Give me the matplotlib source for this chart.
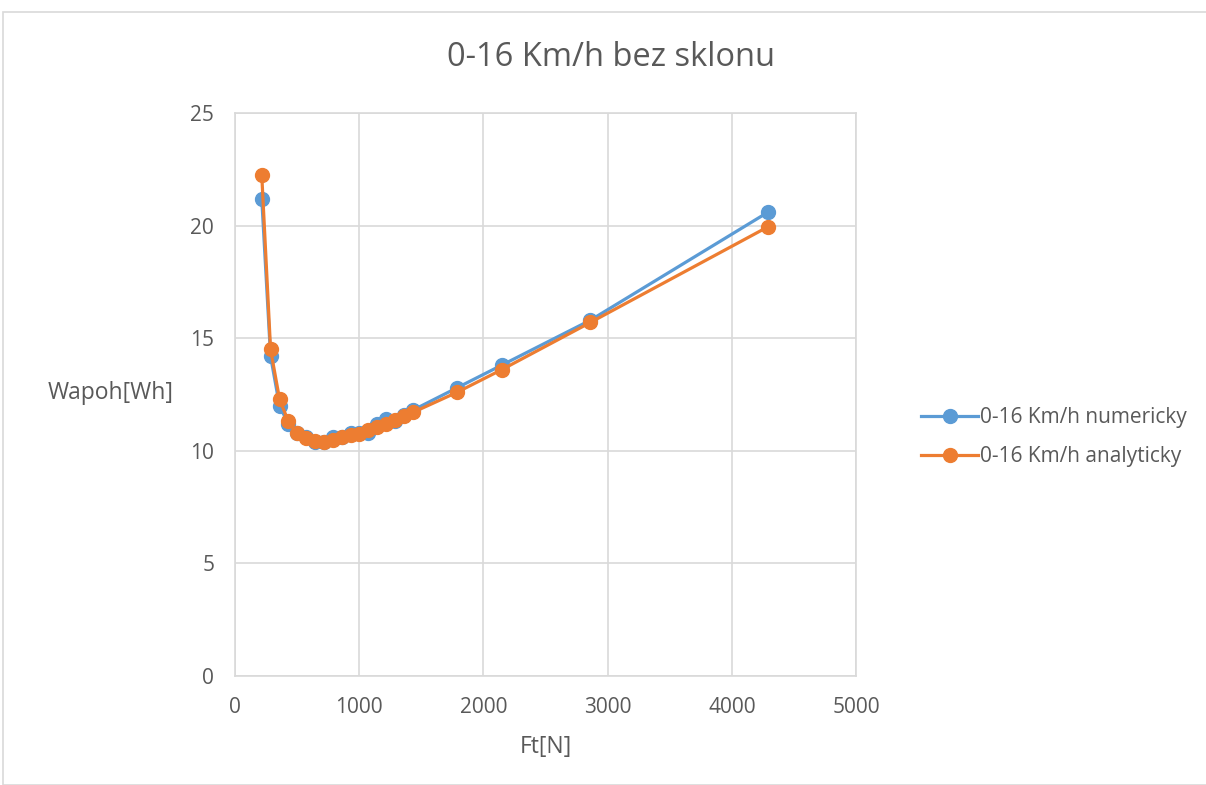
import matplotlib.pyplot as plt
from matplotlib.patches import Rectangle

# Data
ft = [215, 286, 358, 429, 501, 572, 644, 715, 787, 858, 930, 1001,
      1073, 1145, 1216, 1288, 1359, 1431, 1789, 2147, 2862, 4293]
numericky = [21.2, 14.2, 12.0, 11.2, 10.8, 10.6, 10.4, 10.4, 10.6, 10.6, 10.8, 10.8,
             10.8, 11.2, 11.4, 11.3, 11.6, 11.8, 12.8, 13.8, 15.8, 20.6]
analyticky = [22.25, 14.5, 12.3, 11.3, 10.8, 10.55, 10.45, 10.4, 10.5, 10.6, 10.7, 10.75,
              10.9, 11.05, 11.2, 11.35, 11.55, 11.7, 12.6, 13.6, 15.7, 19.95]

plt.rcParams['font.family'] = ['Open Sans', 'DejaVu Sans']
text_col = '#595959'
grid_col = '#d9d9d9'

fig = plt.figure(figsize=(12.06, 7.85), dpi=100)
ax = fig.add_axes([0.1949, 0.1389, 0.5149, 0.7172])

# chart border
fig.patches.append(Rectangle((3 / 1206, 0), 1.2, 1 - 12 / 785, transform=fig.transFigure,
                             fill=False, edgecolor=grid_col, linewidth=1.2))

ax.plot(ft, numericky, color='#5B9BD5', marker='o', markersize=10, linewidth=2.3,
        label='0-16 Km/h numericky', zorder=3)
ax.plot(ft, analyticky, color='#ED7D31', marker='o', markersize=10, linewidth=2.3,
        label='0-16 Km/h analyticky', zorder=4)

ax.set_xlim(0, 5000)
ax.set_ylim(0, 25)
ax.set_xticks(range(0, 5001, 1000))
ax.set_yticks(range(0, 26, 5))
ax.grid(True, color=grid_col, linewidth=1.2)
ax.set_axisbelow(True)
for s in ax.spines.values():
    s.set_color(grid_col)
    s.set_linewidth(1.2)
ax.tick_params(length=0, labelsize=15, colors=text_col, pad=15)

# title is centred on the whole chart, not on the plot area
fig.text(611 / 1206, 1 - 58 / 785, '0-16 Km/h bez sklonu', fontsize=23.5,
         color=text_col, ha='center', va='center')
ax.set_xlabel('Ft[N]', fontsize=16.5, color=text_col, labelpad=12.5)
ax.set_ylabel('Wapoh[Wh]', fontsize=16.5, color=text_col, rotation=0, labelpad=0,
              va='center', ha='center')
ax.yaxis.set_label_coords(-0.1997, 0.503)

fig.legend(loc='center left', bbox_to_anchor=(0.7485, 0.443), frameon=False,
           fontsize=15, labelcolor=text_col, handlelength=2.7, handletextpad=0.1,
           labelspacing=0.85)

fig.savefig('out.png', dpi=100)
